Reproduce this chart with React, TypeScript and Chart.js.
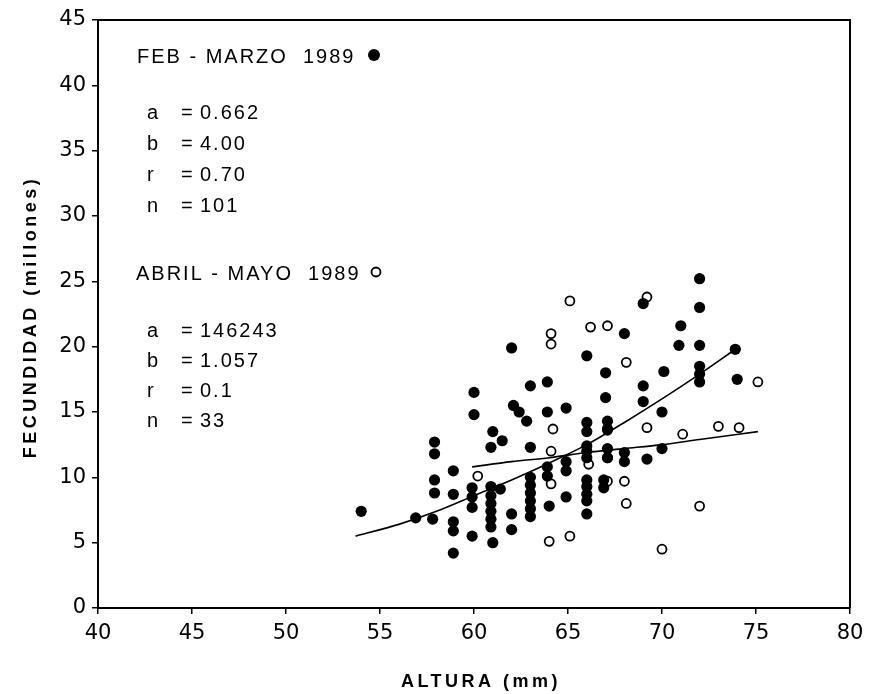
import React, { useEffect, useRef } from "react";
import { Chart, registerables } from "chart.js";
Chart.register(...registerables);

// FEB-MARZO 1989 (filled)
const febAltura = [
  54.0, 56.9, 57.9, 57.9, 57.9, 57.9, 57.8, 58.9, 58.9, 58.9, 58.9, 58.9,
  60.0, 60.0, 59.9, 59.9, 59.9, 59.9, 61.0, 61.5, 60.9, 60.9, 60.9, 60.9,
  60.9, 60.9, 60.9, 61.4, 61.0, 62.0, 62.1, 62.4, 62.8, 62.0, 62.0, 63.0,
  63.0, 63.0, 63.0, 63.0, 63.0, 63.0, 63.0, 63.9, 63.9, 63.9, 63.9, 64.0,
  64.9, 64.9, 64.9, 64.9, 66.0, 66.0, 66.0, 66.0, 66.0, 66.0, 66.0, 66.0,
  66.0, 66.0, 66.0, 67.0, 67.0, 67.1, 67.1, 67.1, 67.1, 66.9, 66.9, 68.0,
  68.0, 68.0, 69.0, 69.0, 69.0, 69.2, 70.1, 70.0, 70.0, 71.0, 70.9, 72.0,
  72.0, 72.0, 72.0, 72.0, 72.0, 73.9, 74.0,
];
const febFecundidad = [
  7.4, 6.9, 12.7, 11.8, 9.8, 8.8, 6.8, 10.5, 8.7, 6.6, 5.9, 4.2,
  16.5, 14.8, 9.2, 8.5, 7.7, 5.5, 13.5, 12.8, 12.3, 9.3, 8.6, 8.0,
  7.4, 6.8, 6.2, 9.1, 5.0, 19.9, 15.5, 15.0, 14.3, 7.2, 6.0, 17.0,
  12.3, 10.0, 9.4, 8.8, 8.2, 7.6, 7.0, 17.3, 15.0, 10.8, 10.1, 7.8,
  15.3, 11.2, 10.5, 8.5, 19.3, 14.2, 13.5, 12.4, 12.0, 11.5, 9.8, 9.3,
  8.7, 8.2, 7.2, 18.0, 16.1, 14.3, 13.7, 12.2, 11.5, 9.8, 9.2, 21.0,
  11.9, 11.2, 23.3, 17.0, 15.8, 11.4, 18.1, 15.0, 12.2, 21.6, 20.1, 25.2,
  23.0, 20.1, 18.5, 17.9, 17.3, 19.8, 17.5,
];

// ABRIL-MAYO 1989 (open)
const abrAltura = [
  60.2, 64.1, 64.1, 64.2, 64.1, 64.1, 64.0, 65.1, 65.1, 66.1, 66.2, 67.1, 67.1,
  67.1, 67.1, 68.1, 68.0, 68.1, 69.2, 69.2, 70.0, 71.1, 72.0, 73.0, 74.1, 75.1,
];
const abrFecundidad = [
  10.1, 21.0, 20.2, 13.7, 12.0, 9.5, 5.1, 23.5, 5.5, 11.0, 21.5, 21.6, 13.6,
  11.5, 9.7, 18.8, 9.7, 8.0, 23.8, 13.8, 4.5, 13.3, 7.8, 13.9, 13.8, 17.3,
];

// fitted curves
const fitFebX = [53.7, 56, 58, 60, 62, 64, 66, 68, 70, 72, 73.9];
const fitFebY = [5.5, 6.4, 7.4, 8.6, 9.8, 11.1, 12.5, 14.2, 16.0, 17.9, 19.8];
const fitAbrX = [59.9, 62, 64, 66, 68, 70, 72, 75.1];
const fitAbrY = [10.8, 11.2, 11.5, 11.9, 12.2, 12.5, 12.9, 13.5];

const febLines = [
  ["a", "0.662"],
  ["b", "4.00"],
  ["r", "0.70"],
  ["n", "101"],
];
const abrLines = [
  ["a", "146243"],
  ["b", "1.057"],
  ["r", "0.1"],
  ["n", "33"],
];

const FONT = "'Liberation Sans', Arial, sans-serif";
const TICKFONT = "'DejaVu Sans', sans-serif";

const zip = (xs: number[], ys: number[]) => xs.map((x, i) => ({ x, y: ys[i] }));

const annotations = {
  id: "annotations",
  afterDraw(chart: any) {
    const ctx = chart.ctx as CanvasRenderingContext2D;
    const a = chart.chartArea;
    ctx.save();
    // frame (top and right)
    ctx.strokeStyle = "#000";
    ctx.lineWidth = 2;
    ctx.beginPath();
    ctx.moveTo(a.left, a.top);
    ctx.lineTo(a.right, a.top);
    ctx.lineTo(a.right, a.bottom);
    ctx.stroke();

    ctx.fillStyle = "#000";
    ctx.textBaseline = "alphabetic";
    ctx.textAlign = "left";
    (ctx as any).letterSpacing = "2px";
    ctx.font = `20px ${FONT}`;
    ctx.fillText("FEB - MARZO  1989", 137, 63);
    ctx.beginPath();
    ctx.arc(374, 55, 6, 0, Math.PI * 2);
    ctx.fill();

    const drawBlock = (lines: string[][], y0: number, dy: number) => {
      lines.forEach((l, i) => {
        const y = y0 + i * dy;
        ctx.fillText(l[0], 147, y);
        ctx.fillText("=", 181, y);
        ctx.fillText(l[1], 200, y);
      });
    };
    drawBlock(febLines, 119, 31);
    ctx.fillText("ABRIL - MAYO  1989", 136, 280);
    ctx.lineWidth = 1.8;
    ctx.beginPath();
    ctx.arc(376, 272, 4.5, 0, Math.PI * 2);
    ctx.stroke();
    drawBlock(abrLines, 337, 30);

    // axis titles
    ctx.font = `bold 18px ${FONT}`;
    (ctx as any).letterSpacing = "3.5px";
    ctx.textAlign = "center";
    ctx.fillText("ALTURA (mm)", 481, 687);
    ctx.translate(36, 317);
    ctx.rotate(-Math.PI / 2);
    ctx.fillText("FECUNDIDAD (millones)", 0, 0);
    ctx.restore();
  },
};

export default function App() {
  const ref = useRef<HTMLCanvasElement>(null);
  useEffect(() => {
    if (!ref.current) return;
    const chart = new Chart(ref.current, {
      type: "scatter",
      data: {
        datasets: [
          {
            type: "line",
            data: zip(fitFebX, fitFebY),
            borderColor: "#000",
            borderWidth: 1.6,
            pointRadius: 0,
            tension: 0.4,
            cubicInterpolationMode: "monotone",
            fill: false,
          } as any,
          {
            type: "line",
            data: zip(fitAbrX, fitAbrY),
            borderColor: "#000",
            borderWidth: 1.6,
            pointRadius: 0,
            tension: 0.4,
            cubicInterpolationMode: "monotone",
            fill: false,
          } as any,
          {
            data: zip(febAltura, febFecundidad),
            backgroundColor: "#000",
            borderColor: "#000",
            borderWidth: 0,
            pointRadius: 5.6,
          },
          {
            data: zip(abrAltura, abrFecundidad),
            backgroundColor: "#fff",
            borderColor: "#000",
            borderWidth: 1.8,
            pointRadius: 4.5,
          },
        ],
      },
      options: {
        animation: false,
        responsive: true,
        maintainAspectRatio: false,
        layout: { padding: { top: 20, right: 21, left: 0, bottom: 0 } },
        plugins: { legend: { display: false }, tooltip: { enabled: false } },
        scales: {
          x: {
            type: "linear",
            min: 40,
            max: 80,
            afterFit: (s: any) => {
              s.height = 86;
            },
            ticks: {
              stepSize: 5,
              color: "#000",
              padding: 7,
              font: { family: TICKFONT, size: 21 },
            },
            grid: {
              display: true,
              drawOnChartArea: false,
              drawTicks: true,
              tickLength: 6,
              color: "#000",
              lineWidth: 1.5,
            },
            border: { display: true, color: "#000", width: 2 },
          },
          y: {
            type: "linear",
            min: 0,
            max: 45,
            afterFit: (s: any) => {
              s.width = 98;
            },
            ticks: {
              stepSize: 5,
              color: "#000",
              padding: 6,
              font: { family: TICKFONT, size: 21 },
            },
            grid: {
              display: true,
              drawOnChartArea: false,
              drawTicks: true,
              tickLength: 6,
              color: "#000",
              lineWidth: 1.5,
            },
            border: { display: true, color: "#000", width: 2 },
          },
        },
      },
      plugins: [annotations],
    });
    return () => chart.destroy();
  }, []);
  return (
    <div style={{ position: "absolute", left: 0, top: 0, width: 871, height: 694, background: "#fff" }}>
      <canvas ref={ref} />
    </div>
  );
}
